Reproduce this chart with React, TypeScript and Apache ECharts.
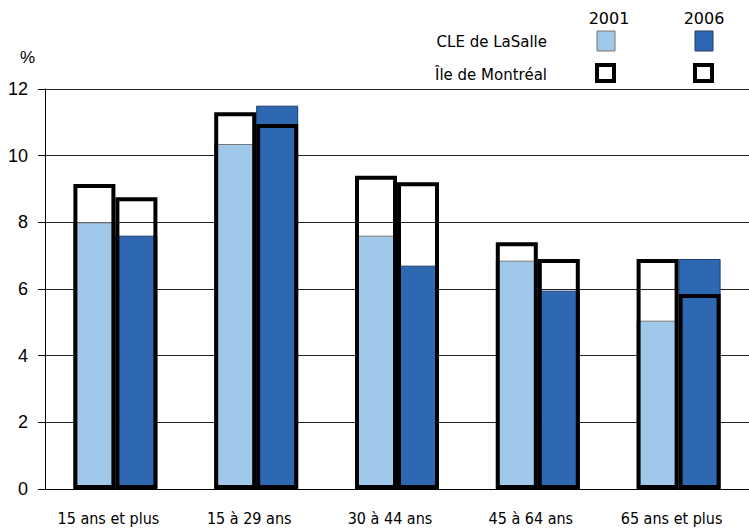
import React, { useEffect, useRef } from "react";
import * as echarts from "echarts";

const categories = ["15 ans et plus", "15 à 29 ans", "30 à 44 ans", "45 à 64 ans", "65 ans et plus"];
const cle2001 = [8.0, 10.35, 7.6, 6.85, 5.05];
const cle2006 = [7.6, 11.5, 6.7, 5.95, 6.9];
const ile2001 = [9.15, 11.3, 9.4, 7.4, 6.9];
const ile2006 = [8.75, 10.95, 9.2, 6.9, 5.85];
const years = ["2001", "2006"];
const rowLabels = ["CLE de LaSalle", "Île de Montréal"];

const LIGHT = "#9fc8ea";
const DARK = "#2e67b2";

export default function App() {
  const ref = useRef<HTMLDivElement>(null);
  useEffect(() => {
    document.body.style.margin = "0";
    const chart = echarts.init(ref.current!, null, { renderer: "svg" });
    const legendFont = "DejaVu Sans";
    chart.setOption({
      animation: false,
      backgroundColor: "#fff",
      grid: { left: 45, right: -11, top: 89, bottom: 42 },
      xAxis: [
        {
          type: "category",
          data: categories,
          axisLine: { show: true, lineStyle: { color: "#000", width: 1 } },
          axisTick: { show: false },
          axisLabel: {
            color: "#000",
            fontSize: 16,
            fontFamily: "DejaVu Sans Condensed",
            margin: 21,
            padding: [0, 14, 0, 0],
          },
          z: 5,
        },
        { type: "category", data: categories, show: false },
      ],
      yAxis: {
        type: "value",
        min: 0,
        max: 12,
        interval: 2,
        axisLine: { show: true, lineStyle: { color: "#000", width: 1 } },
        axisTick: { show: true, length: 7, lineStyle: { color: "#000" } },
        axisLabel: { color: "#000", fontSize: 18, fontFamily: "Liberation Sans", margin: 17 },
        splitLine: { show: true, lineStyle: { color: "#222", width: 1 } },
      },
      series: [
        {
          name: "CLE de LaSalle 2001",
          type: "bar",
          xAxisIndex: 0,
          data: cle2001,
          barWidth: 42,
          barGap: "0%",
          itemStyle: { color: LIGHT, borderColor: "#777", borderWidth: 1 },
          z: 2,
        },
        {
          name: "CLE de LaSalle 2006",
          type: "bar",
          xAxisIndex: 0,
          data: cle2006,
          barWidth: 42,
          barGap: "0%",
          itemStyle: { color: DARK, borderColor: "#1c3d6b", borderWidth: 1 },
          z: 2,
        },
        {
          name: "Île de Montréal 2001",
          type: "bar",
          xAxisIndex: 1,
          data: ile2001,
          barWidth: 42,
          barGap: "0%",
          itemStyle: { color: "rgba(0,0,0,0)", borderColor: "#000", borderWidth: 4 },
          z: 4,
        },
        {
          name: "Île de Montréal 2006",
          type: "bar",
          xAxisIndex: 1,
          data: ile2006,
          barWidth: 42,
          barGap: "0%",
          itemStyle: { color: "rgba(0,0,0,0)", borderColor: "#000", borderWidth: 4 },
          z: 4,
        },
      ],
      graphic: [
        {
          type: "text",
          left: 20,
          top: 49,
          style: { text: "%", fontSize: 17, fontFamily: "Liberation Sans", fill: "#000" },
        },
        {
          type: "text",
          x: 609,
          y: 18,
          style: { text: years[0], fontSize: 16, fontFamily: legendFont, fill: "#000", align: "center", verticalAlign: "middle" },
        },
        {
          type: "text",
          x: 704,
          y: 18,
          style: { text: years[1], fontSize: 16, fontFamily: legendFont, fill: "#000", align: "center", verticalAlign: "middle" },
        },
        {
          type: "text",
          x: 547,
          y: 42,
          style: { text: rowLabels[0], fontSize: 15, fontFamily: legendFont, fill: "#000", align: "right", verticalAlign: "middle" },
        },
        {
          type: "text",
          x: 547,
          y: 75,
          style: { text: rowLabels[1], fontSize: 15, fontFamily: legendFont, fill: "#000", align: "right", verticalAlign: "middle" },
        },
        { type: "rect", shape: { x: 597, y: 31, width: 18, height: 20 }, style: { fill: LIGHT, stroke: "#777", lineWidth: 1 } },
        { type: "rect", shape: { x: 695, y: 31, width: 18, height: 20 }, style: { fill: DARK, stroke: "#1c3d6b", lineWidth: 1 } },
        { type: "rect", shape: { x: 597, y: 65, width: 17, height: 16 }, style: { fill: "#fff", stroke: "#000", lineWidth: 4 } },
        { type: "rect", shape: { x: 695, y: 65, width: 17, height: 16 }, style: { fill: "#fff", stroke: "#000", lineWidth: 4 } },
      ],
    });
    return () => chart.dispose();
  }, []);
  return <div ref={ref} style={{ width: 749, height: 531 }} />;
}
